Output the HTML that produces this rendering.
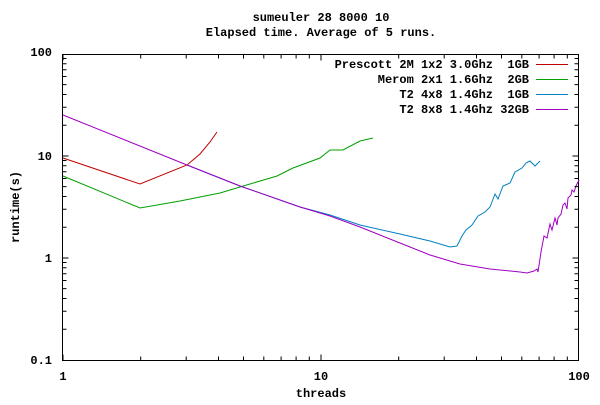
<!DOCTYPE html>
<html><head><style>
body{margin:0;background:#fff}
text{font-family:"Liberation Mono",monospace;font-size:12px;font-weight:bold;fill:#000;white-space:pre}
</style></head><body>
<svg width="600" height="400" xmlns="http://www.w3.org/2000/svg" xml:space="preserve">
<rect width="600" height="400" fill="#fff"/>
<text x="321" y="21" text-anchor="middle">sumeuler 28 8000 10</text>
<text x="321" y="36" text-anchor="middle">Elapsed time. Average of 5 runs.</text>
<rect x="62.5" y="54.5" width="516" height="306" fill="none" stroke="#000"/>
<text x="52" y="56" text-anchor="end">100</text>
<text x="52" y="160" text-anchor="end">10</text>
<text x="52" y="262" text-anchor="end">1</text>
<text x="52" y="364" text-anchor="end">0.1</text>
<text x="63" y="380" text-anchor="middle">1</text>
<text x="321" y="380" text-anchor="middle">10</text>
<text x="579" y="380" text-anchor="middle">100</text>
<text x="321" y="397" text-anchor="middle">threads</text>
<text transform="translate(19,207) rotate(-90)" text-anchor="middle">runtime(s)</text>
<text x="529" y="68" text-anchor="end">Prescott 2M 1x2 3.0Ghz  1GB</text>
<text x="529" y="83" text-anchor="end">Merom 2x1 1.6Ghz  2GB</text>
<text x="529" y="98" text-anchor="end">T2 4x8 1.4Ghz  1GB</text>
<text x="529" y="113" text-anchor="end">T2 8x8 1.4Ghz 32GB</text>
<g fill="none" stroke-width="1">
<line x1="536" y1="64.5" x2="568" y2="64.5" stroke="#c00000"/>
<line x1="536" y1="79.5" x2="568" y2="79.5" stroke="#00a000"/>
<line x1="536" y1="94.5" x2="568" y2="94.5" stroke="#0080c0"/>
<line x1="536" y1="109.5" x2="568" y2="109.5" stroke="#a000c0"/>
<polyline stroke="#c00000" points="63,158 140,184 187,165 200,154 210,142 217,132"/>
<polyline stroke="#00a000" points="63,176 140,208 180,201 220,193 250,184 277,176 293,168 320,158 330,150 343,150 360,141 373,138"/>
<polyline stroke="#0080c0" points="187,165 240,186 300,207 330,215 360,225 400,234 430,241 450,247 457,246 462,236 466,230 472,225 478,216 485,212 490,207 495,194 498,199 503,186 510,183 515,172 522,168 526,163 530,161 535,166 540,161"/>
<polyline stroke="#a000c0" points="63,115 187,165 240,186 300,207 330,216 360,227 400,243 430,255 460,264 490,269 520,272 527,273 534,271 537,269 538,272 541,252 544,236 547,238 550,224 552,230 555,218 557,225 558,218 561,214 563,205 565,203 567,209 568,198 571,195 572,190 574,192 576,186 579,180"/>
</g>
<g stroke="#000" stroke-width="1">
<path d="
M63,54.5v6M63,360.5v-6
M140.7,360.5v-4M186.2,360.5v-4M218.5,360.5v-4M243.5,360.5v-4M263.8,360.5v-4M281.1,360.5v-4M296.1,360.5v-4M309.3,360.5v-4
M321,360.5v-6
M398.7,360.5v-4M444.2,360.5v-4M476.5,360.5v-4M501.5,360.5v-4M521.8,360.5v-4M539.1,360.5v-4M554.1,360.5v-4M567.3,360.5v-4
M140.7,54.5v4M186.2,54.5v4M218.5,54.5v4M243.5,54.5v4M263.8,54.5v4M281.1,54.5v4M296.1,54.5v4M309.3,54.5v4M321,54.5v6
M398.7,54.5v4M444.2,54.5v4M476.5,54.5v4M501.5,54.5v4M521.8,54.5v4M539.1,54.5v4M554.1,54.5v4M567.3,54.5v4
M62.5,156h6M62.5,258h6M578.5,156h-6M578.5,258h-6
"/>
<path d="
M62.5,329.3h4M62.5,311.3h4M62.5,298.5h4M62.5,288.6h4M62.5,280.5h4M62.5,273.7h4M62.5,267.7h4M62.5,262.5h4
M62.5,227.3h4M62.5,209.3h4M62.5,196.5h4M62.5,186.6h4M62.5,178.5h4M62.5,171.7h4M62.5,165.7h4M62.5,160.5h4
M62.5,125.3h4M62.5,107.3h4M62.5,94.5h4M62.5,84.6h4M62.5,76.5h4M62.5,69.7h4M62.5,63.7h4M62.5,58.5h4
M578.5,329.3h-4M578.5,311.3h-4M578.5,298.5h-4M578.5,288.6h-4M578.5,280.5h-4M578.5,273.7h-4M578.5,267.7h-4M578.5,262.5h-4
M578.5,227.3h-4M578.5,209.3h-4M578.5,196.5h-4M578.5,186.6h-4M578.5,178.5h-4M578.5,171.7h-4M578.5,165.7h-4M578.5,160.5h-4
M578.5,125.3h-4M578.5,107.3h-4M578.5,94.5h-4M578.5,84.6h-4M578.5,76.5h-4M578.5,69.7h-4M578.5,63.7h-4M578.5,58.5h-4
"/>
</g>
</svg>
</body></html>
